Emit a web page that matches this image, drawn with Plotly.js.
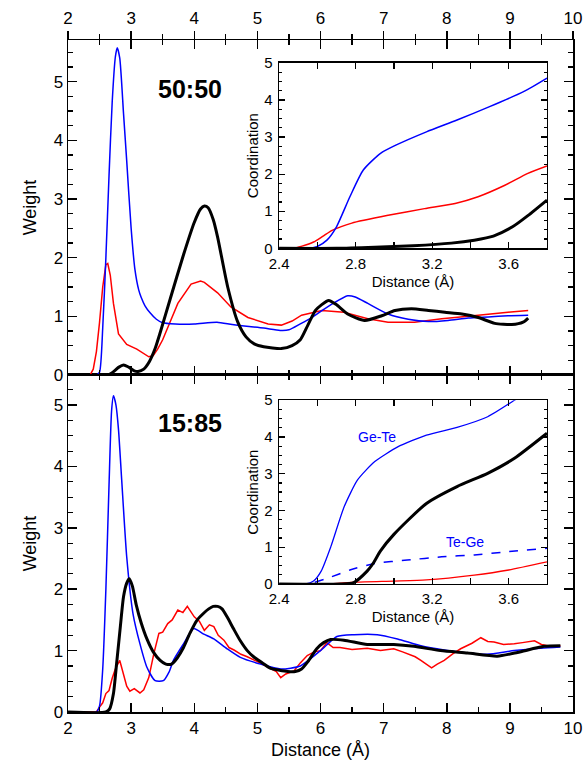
<!DOCTYPE html>
<html><head><meta charset="utf-8">
<script src="https://cdn.plot.ly/plotly-3.0.1.min.js"></script>
<style>html,body{margin:0;padding:0;background:#fff}#plot{width:588px;height:771px}</style>
</head><body><div id="plot"></div>
<script>
// ---------- 50:50 main panel (Weight vs Distance) ----------
const top_blue_x = [2.0, 2.45, 2.5, 2.55, 2.6, 2.65, 2.7, 2.75, 2.78, 2.82, 2.88, 2.93, 3.0, 3.06, 3.12, 3.16, 3.22, 3.3, 3.4, 3.5, 3.7, 4.0, 4.36, 4.6, 4.83, 5.1, 5.36, 5.5, 5.68, 5.85, 6.0, 6.2, 6.43, 6.55, 6.75, 7.07, 7.39, 7.71, 8.02, 8.34, 8.66, 8.97, 9.29];
const top_blue_y = [0, 0, 0.05, 0.8, 2.0, 3.4, 4.65, 5.42, 5.58, 5.4, 4.45, 3.65, 2.5, 1.8, 1.45, 1.32, 1.18, 1.06, 0.95, 0.89, 0.87, 0.87, 0.9, 0.86, 0.83, 0.8, 0.76, 0.77, 0.87, 0.97, 1.08, 1.22, 1.35, 1.33, 1.22, 1.04, 0.95, 0.91, 0.93, 0.97, 0.99, 1.01, 1.02];
const top_red_x = [2.0, 2.35, 2.4, 2.45, 2.5, 2.55, 2.6, 2.63, 2.67, 2.72, 2.8, 2.93, 3.09, 3.2, 3.28, 3.35, 3.42, 3.5, 3.58, 3.74, 3.95, 4.1, 4.16, 4.25, 4.37, 4.58, 4.85, 5.17, 5.38, 5.55, 5.7, 6.02, 6.37, 6.75, 7.07, 7.49, 7.92, 8.34, 8.66, 8.97, 9.29];
const top_red_y = [0, 0, 0.1, 0.4, 0.9, 1.5, 1.88, 1.9, 1.7, 1.22, 0.7, 0.52, 0.44, 0.36, 0.31, 0.33, 0.44, 0.6, 0.81, 1.22, 1.55, 1.6, 1.58, 1.5, 1.4, 1.16, 0.98, 0.87, 0.85, 0.92, 1.02, 1.1, 1.07, 0.96, 0.9, 0.9, 0.96, 1.0, 1.04, 1.07, 1.1];
const top_black_x = [2.0, 2.62, 2.7, 2.8, 2.88, 2.95, 3.05, 3.11, 3.2, 3.29, 3.38, 3.46, 3.62, 3.83, 4.0, 4.1, 4.16, 4.22, 4.3, 4.37, 4.53, 4.69, 4.82, 4.95, 5.1, 5.38, 5.55, 5.68, 5.8, 5.92, 6.02, 6.13, 6.25, 6.43, 6.7, 6.97, 7.18, 7.44, 7.71, 7.97, 8.24, 8.5, 8.76, 9.03, 9.21, 9.29];
const top_black_y = [0, 0, 0.04, 0.13, 0.17, 0.14, 0.07, 0.06, 0.1, 0.23, 0.45, 0.72, 1.3, 2.05, 2.6, 2.83, 2.88, 2.85, 2.65, 2.35, 1.5, 0.9, 0.65, 0.53, 0.48, 0.45, 0.5, 0.6, 0.85, 1.1, 1.2, 1.27, 1.2, 1.04, 0.93, 1.01, 1.1, 1.13, 1.1, 1.07, 1.04, 0.98, 0.88, 0.86, 0.9, 0.97];

// ---------- 15:85 main panel ----------
const bot_blue_x = [2.0, 2.45, 2.5, 2.55, 2.6, 2.65, 2.69, 2.72, 2.76, 2.8, 2.85, 2.93, 3.03, 3.14, 3.25, 3.38, 3.51, 3.6, 3.67, 3.83, 3.99, 4.15, 4.31, 4.52, 4.73, 5.05, 5.37, 5.68, 6.0, 6.26, 6.53, 6.9, 7.22, 7.59, 7.96, 8.33, 8.64, 9.07, 9.49, 9.8];
const bot_blue_y = [0, 0, 0.1, 0.7, 2.0, 3.7, 4.9, 5.15, 5.0, 4.6, 3.79, 2.53, 1.6, 1.11, 0.73, 0.51, 0.51, 0.65, 0.84, 1.11, 1.36, 1.27, 1.19, 1.03, 0.89, 0.78, 0.7, 0.75, 1.0, 1.23, 1.26, 1.26, 1.19, 1.08, 1.01, 0.96, 0.94, 1.0, 1.04, 1.06];
const bot_red_x = [2.0, 2.45, 2.5, 2.55, 2.6, 2.65, 2.7, 2.75, 2.82, 2.88, 2.93, 2.98, 3.05, 3.14, 3.2, 3.28, 3.36, 3.44, 3.5, 3.58, 3.65, 3.74, 3.82, 3.89, 3.95, 4.0, 4.08, 4.16, 4.24, 4.31, 4.38, 4.47, 4.55, 4.63, 4.74, 4.84, 5.0, 5.16, 5.3, 5.37, 5.45, 5.58, 5.68, 5.79, 5.9, 6.0, 6.1, 6.2, 6.31, 6.5, 6.74, 6.95, 7.16, 7.3, 7.37, 7.5, 7.59, 7.68, 7.76, 7.85, 7.96, 8.1, 8.22, 8.4, 8.54, 8.65, 8.75, 8.9, 9.07, 9.2, 9.39, 9.5, 9.6, 9.8];
const bot_red_y = [0, 0, 0.08, 0.15, 0.3, 0.35, 0.55, 0.7, 0.84, 0.6, 0.42, 0.34, 0.38, 0.31, 0.36, 0.56, 0.95, 1.28, 1.3, 1.44, 1.5, 1.66, 1.62, 1.72, 1.62, 1.55, 1.48, 1.33, 1.42, 1.39, 1.25, 1.17, 1.05, 1.01, 0.94, 0.9, 0.82, 0.73, 0.66, 0.56, 0.62, 0.67, 0.8, 0.92, 0.98, 1.0, 1.13, 1.05, 1.05, 1.02, 1.04, 1.0, 1.03, 0.98, 0.95, 0.9, 0.84, 0.78, 0.72, 0.78, 0.84, 0.95, 1.03, 1.12, 1.21, 1.15, 1.14, 1.1, 1.11, 1.13, 1.16, 1.1, 1.08, 1.08];
const bot_black_x = [2.0, 2.6, 2.66, 2.72, 2.77, 2.83, 2.88, 2.93, 2.97, 3.02, 3.08, 3.16, 3.25, 3.35, 3.46, 3.55, 3.64, 3.73, 3.83, 3.93, 4.04, 4.14, 4.23, 4.3, 4.37, 4.44, 4.52, 4.62, 4.73, 4.84, 4.94, 5.08, 5.21, 5.35, 5.48, 5.6, 5.7, 5.8, 5.94, 6.05, 6.16, 6.37, 6.74, 7.16, 7.48, 7.9, 8.33, 8.8, 9.12, 9.54, 9.8];
const bot_black_y = [0, 0, 0.05, 0.3, 0.79, 1.4, 1.88, 2.1, 2.17, 2.05, 1.75, 1.45, 1.19, 0.98, 0.84, 0.78, 0.78, 0.88, 1.05, 1.28, 1.49, 1.6, 1.68, 1.72, 1.72, 1.68, 1.55, 1.36, 1.16, 1.0, 0.9, 0.8, 0.71, 0.68, 0.66, 0.66, 0.7, 0.82, 1.03, 1.13, 1.18, 1.17, 1.1, 1.1, 1.07, 1.0, 0.96, 0.91, 0.97, 1.07, 1.08];

// ---------- 50:50 inset (Coordination) ----------
const ins1_blue_x = [2.4, 2.56, 2.6, 2.65, 2.7, 2.77, 2.84, 2.93, 3.01, 3.17, 3.33, 3.5, 3.68, 3.8];
const ins1_blue_y = [0, 0, 0.05, 0.22, 0.58, 1.39, 2.11, 2.56, 2.78, 3.14, 3.46, 3.82, 4.23, 4.59];
const ins1_red_x = [2.4, 2.47, 2.52, 2.58, 2.63, 2.68, 2.78, 2.97, 3.16, 3.32, 3.44, 3.58, 3.7, 3.8];
const ins1_red_y = [0, 0, 0.06, 0.17, 0.33, 0.49, 0.68, 0.89, 1.07, 1.21, 1.39, 1.7, 2.02, 2.22];
const ins1_black_x = [2.4, 2.7, 2.9, 3.1, 3.3, 3.42, 3.52, 3.62, 3.7, 3.8];
const ins1_black_y = [0, 0, 0.03, 0.07, 0.14, 0.22, 0.33, 0.58, 0.88, 1.3];

// ---------- 15:85 inset ----------
const ins2_gete_x = [2.4, 2.54, 2.58, 2.62, 2.67, 2.74, 2.81, 2.9, 3.02, 3.17, 3.33, 3.49, 3.63, 3.8];
const ins2_gete_y = [0, 0, 0.08, 0.35, 1.01, 2.1, 2.83, 3.33, 3.73, 4.05, 4.26, 4.55, 5.0, 5.6];
const ins2_black_x = [2.4, 2.72, 2.79, 2.86, 2.89, 2.93, 3.0, 3.17, 3.33, 3.49, 3.63, 3.8];
const ins2_black_y = [0, 0, 0.04, 0.35, 0.55, 0.9, 1.35, 2.19, 2.65, 3.01, 3.42, 4.1];
const ins2_tege_x = [2.4, 2.55, 2.65, 2.77, 2.9, 3.07, 3.25, 3.42, 3.6, 3.8];
const ins2_tege_y = [0, 0, 0.15, 0.38, 0.56, 0.65, 0.74, 0.79, 0.88, 0.97];
const ins2_red_x = [2.4, 2.65, 2.8, 3.0, 3.17, 3.42, 3.6, 3.8];
const ins2_red_y = [0, 0, 0.05, 0.08, 0.11, 0.24, 0.38, 0.6];

const mainTickVals = [2, 3, 4, 5, 6, 7, 8, 9, 10];
const insetTickVals = [2.4, 2.8, 3.2, 3.6];
const panelLabels = ["50:50", "15:85"];
const insetCurveLabels = ["Ge-Te", "Te-Ge"];

const BLUE = "#0000ff", RED = "#ff0000", BLACK = "#000000";
const FONT = "Liberation Sans, Arial, Helvetica, sans-serif";

function tr(x, y, xa, ya, color, w, dash, shape) {
  return {x: x, y: y, xaxis: xa, yaxis: ya, type: "scatter", mode: "lines",
    line: {color: color, width: w, dash: dash || "solid", shape: shape || "spline", smoothing: 0.6},
    showlegend: false, hoverinfo: "skip", cliponaxis: true};
}

const data = [
  tr(top_red_x, top_red_y, "x2", "y2", RED, 1.5, null, "linear"),
  tr(top_blue_x, top_blue_y, "x2", "y2", BLUE, 1.5),
  tr(top_black_x, top_black_y, "x2", "y2", BLACK, 3),
  tr(bot_red_x, bot_red_y, "x", "y", RED, 1.5, null, "linear"),
  tr(bot_blue_x, bot_blue_y, "x", "y", BLUE, 1.5),
  tr(bot_black_x, bot_black_y, "x", "y", BLACK, 3),
  tr(ins1_red_x, ins1_red_y, "x3", "y3", RED, 1.5),
  tr(ins1_blue_x, ins1_blue_y, "x3", "y3", BLUE, 1.5),
  tr(ins1_black_x, ins1_black_y, "x3", "y3", BLACK, 3),
  tr(ins2_red_x, ins2_red_y, "x4", "y4", RED, 1.3),
  tr(ins2_tege_x, ins2_tege_y, "x4", "y4", BLUE, 1.5, "dash"),
  tr(ins2_gete_x, ins2_gete_y, "x4", "y4", BLUE, 1.3),
  tr(ins2_black_x, ins2_black_y, "x4", "y4", BLACK, 3),
];

const tickFontMain = {family: FONT, size: 17, color: "#000"};
const tickFontIns = {family: FONT, size: 15, color: "#000"};

function mainX(anchor, showLabels, title) {
  const a = {anchor: anchor, range: [2, 10], tickmode: "array", tickvals: mainTickVals,
    ticks: "inside", ticklen: 9, tickwidth: 1.5, tickcolor: "#000",
    minor: {dtick: 0.5, tick0: 2, ticks: "inside", ticklen: 5, tickwidth: 1.2, tickcolor: "#000"},
    showline: true, linewidth: 1.5, linecolor: "#000", mirror: "ticks",
    showgrid: false, zeroline: false, showticklabels: showLabels, tickfont: tickFontMain};
  if (title) a.title = {text: title, font: {family: FONT, size: 18, color: "#000"}, standoff: 6};
  return a;
}
function mainY(domain, range) {
  return {domain: domain, range: range, tickmode: "linear", tick0: 0, dtick: 1,
    ticks: "inside", ticklen: 9, tickwidth: 1.5, tickcolor: "#000",
    minor: {dtick: 0.25, tick0: 0, ticks: "inside", ticklen: 5, tickwidth: 1.2, tickcolor: "#000"},
    showline: true, linewidth: 1.5, linecolor: "#000", mirror: "ticks",
    showgrid: false, zeroline: false, tickfont: tickFontMain,
    title: {text: "Weight", font: {family: FONT, size: 18, color: "#000"}, standoff: 12}};
}
function insX(anchor, domain) {
  return {anchor: anchor, domain: domain, range: [2.4, 3.8], tickmode: "array", tickvals: insetTickVals,
    ticks: "inside", ticklen: 6, tickwidth: 1.2, tickcolor: "#000",
    minor: {dtick: 0.2, tick0: 2.4, ticks: "inside", ticklen: 6, tickwidth: 1.2, tickcolor: "#000"},
    showline: true, linewidth: 1.5, linecolor: "#000", mirror: "ticks",
    showgrid: false, zeroline: false, tickfont: tickFontIns, ticklabelstandoff: 1,
    title: {text: "Distance (Å)", font: {family: FONT, size: 15, color: "#000"}, standoff: 5}};
}
function insY(anchor, domain) {
  return {anchor: anchor, domain: domain, range: [0, 5], tickmode: "linear", tick0: 0, dtick: 1,
    ticks: "inside", ticklen: 6, tickwidth: 1.2, tickcolor: "#000",
    minor: {dtick: 0.25, tick0: 0, ticks: "inside", ticklen: 3, tickwidth: 1.2, tickcolor: "#000"},
    showline: true, linewidth: 1.5, linecolor: "#000", mirror: "ticks",
    showgrid: false, zeroline: false, tickfont: tickFontIns, ticklabelstandoff: 2,
    title: {text: "Coordination", font: {family: FONT, size: 15, color: "#000"}, standoff: 2}};
}

const layout = {
  width: 588, height: 771,
  margin: {l: 68, r: 15, t: 40, b: 59},
  paper_bgcolor: "#fff", plot_bgcolor: "rgba(0,0,0,0)",
  font: {family: FONT, color: "#000"},
  showlegend: false,
  xaxis: mainX("y", true, "Distance (Å)"),
  yaxis: Object.assign(mainY([0, 0.5015], [0, 5.49]), {anchor: "x"}),
  xaxis2: Object.assign(mainX("y2", false), {matches: "x"}),
  yaxis2: Object.assign(mainY([0.5015, 1], [0, 5.71]), {anchor: "x2"}),
  xaxis5: {overlaying: "x2", side: "top", anchor: "y2", range: [2, 10], tickmode: "array", tickvals: mainTickVals,
    ticks: "outside", ticklen: 8, tickwidth: 1.5, tickcolor: "#000",
    minor: {dtick: 0.5, tick0: 2, ticks: "outside", ticklen: 5, tickwidth: 1.2, tickcolor: "#000"},
    showline: false, showgrid: false, zeroline: false, tickfont: tickFontMain},
  xaxis3: insX("y3", [0.418, 0.9485]),
  yaxis3: insY("x3", [0.690, 0.966]),
  xaxis4: insX("y4", [0.418, 0.9485]),
  yaxis4: insY("x4", [0.1905, 0.464]),
  annotations: [
    {xref: "x2", yref: "y2", x: 3.93, y: 4.88, text: "<b>" + panelLabels[0] + "</b>", showarrow: false,
      font: {family: FONT, size: 25, color: "#000"}},
    {xref: "x", yref: "y", x: 3.93, y: 4.7, text: "<b>" + panelLabels[1] + "</b>", showarrow: false,
      font: {family: FONT, size: 25, color: "#000"}},
    {xref: "x4", yref: "y4", x: 2.91, y: 4.0, text: insetCurveLabels[0], showarrow: false,
      font: {family: FONT, size: 14, color: BLUE}},
    {xref: "x4", yref: "y4", x: 3.37, y: 1.15, text: insetCurveLabels[1], showarrow: false,
      font: {family: FONT, size: 14, color: BLUE}}
  ]
};

// empty trace so the top tick-label axis is drawn
data.push({x: [2, 10], y: [null, null], xaxis: "x5", yaxis: "y2", type: "scatter", mode: "lines", showlegend: false, hoverinfo: "skip"});

Plotly.newPlot("plot", data, layout, {staticPlot: true, displayModeBar: false});
</script></body></html>
